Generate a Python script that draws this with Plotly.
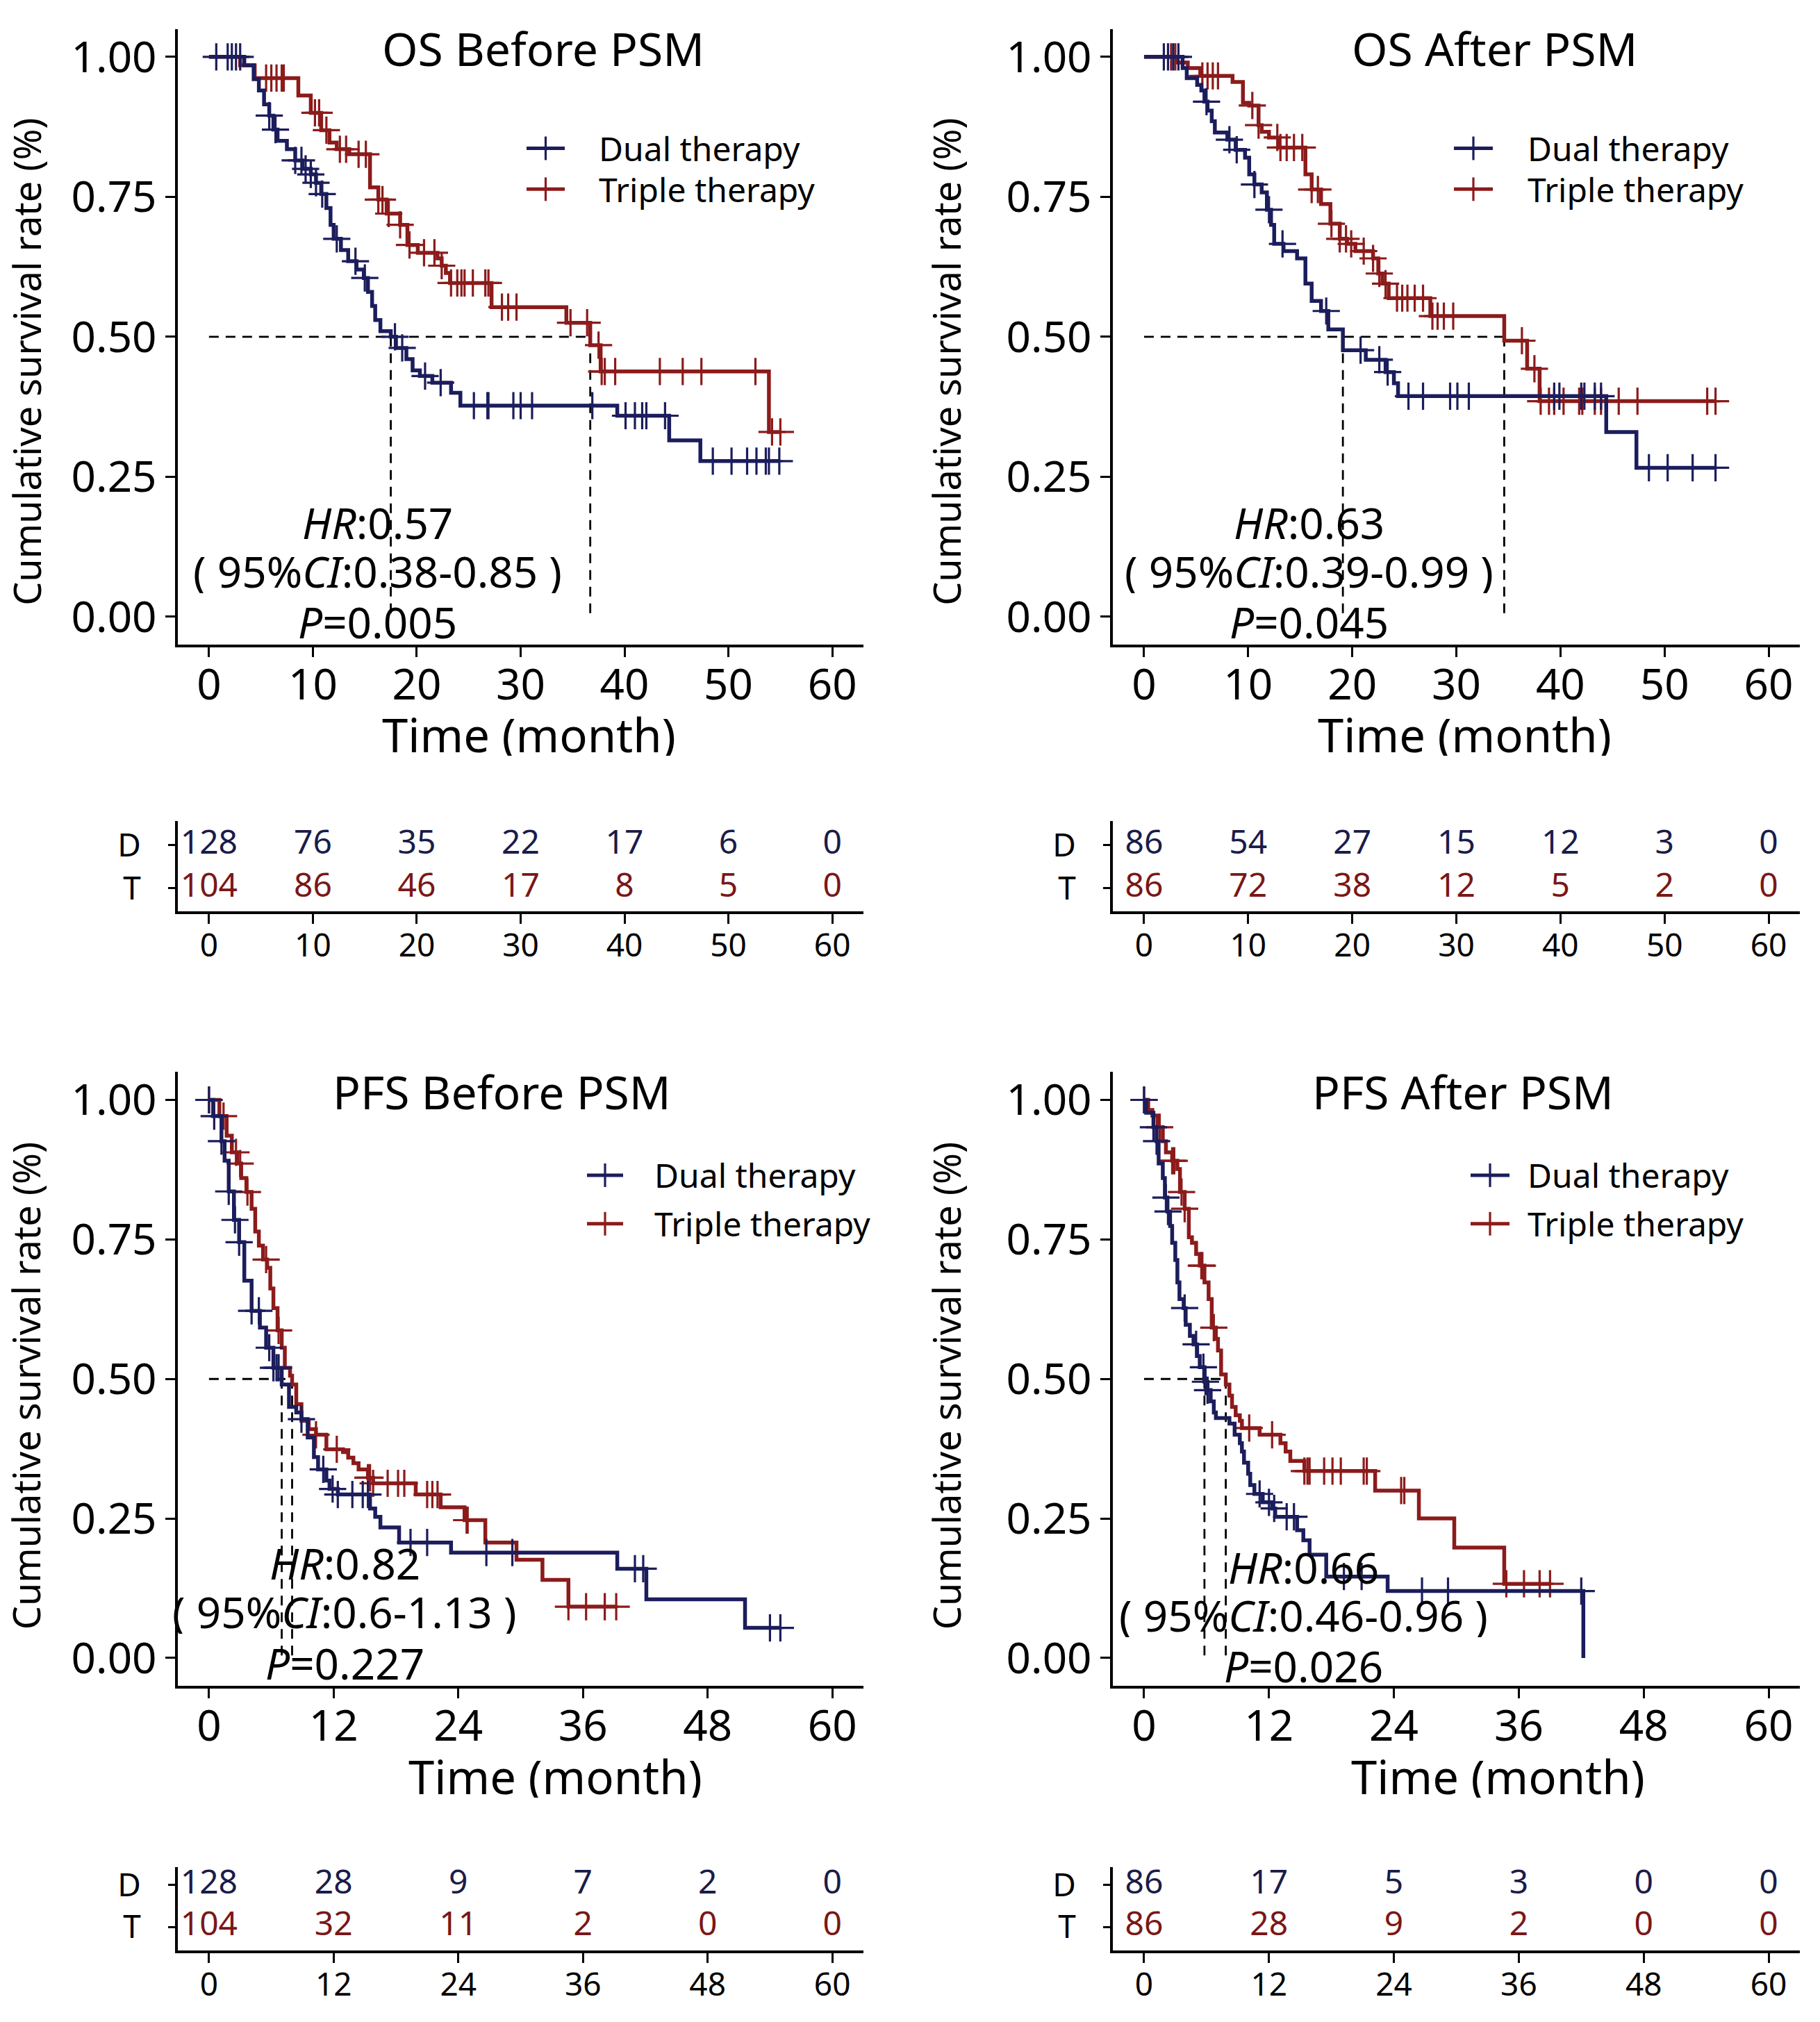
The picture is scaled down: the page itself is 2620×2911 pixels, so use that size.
import numpy as np
import plotly.graph_objects as go

W, H = 2620, 2911
NAVY = "#1b1d5c"
RED = "#8c1b1b"
TAB_NAVY = "#1a1c4a"
TAB_RED = "#7a1717"
FONT = "Noto Sans"

# ---------------- data ----------------
# OS before PSM
os_b_dual_t = [3.4, 4.3, 4.8, 5.3, 5.8, 6.2, 6.6, 7.5, 8.3, 9.0, 9.8, 10.3, 10.8, 11.3, 11.7, 12.0, 12.7, 13.4,
               14.2, 14.9, 15.3, 15.7, 16.0, 16.5, 17.5, 18.0, 19.0, 19.6, 20.3, 21.5, 23.3, 24.2, 39.3, 44.3, 47.3]
os_b_dual_s = [0.985, 0.96, 0.94, 0.915, 0.895, 0.87, 0.85, 0.835, 0.815, 0.80, 0.79, 0.775, 0.755, 0.73, 0.70,
               0.675, 0.655, 0.635, 0.62, 0.605, 0.58, 0.555, 0.53, 0.51, 0.50, 0.48, 0.46, 0.44, 0.43, 0.418,
               0.40, 0.377, 0.359, 0.315, 0.278]
os_b_dual_c = [0.7, 1.8, 2.2, 2.6, 3.0, 5.8, 6.4, 8.3, 8.9, 9.3, 9.8, 10.3, 10.9, 12.3, 14.1, 15.0, 17.9, 18.6,
               20.8, 22.3, 25.5, 26.8, 26.9, 29.3, 30.0, 31.1, 36.9, 40.1, 41.0, 41.7, 42.1, 43.9, 48.5, 50.3,
               51.8, 52.7, 53.6, 53.9, 54.9]
os_b_tri_t = [3.0, 4.4, 8.6, 9.8, 10.8, 11.6, 12.3, 13.5, 15.5, 16.3, 17.1, 18.4, 19.1, 20.1, 22.0, 22.4, 22.8,
              23.2, 27.2, 34.4, 36.7, 37.7, 53.9]
os_b_tri_s = [0.985, 0.962, 0.931, 0.90, 0.869, 0.847, 0.835, 0.826, 0.767, 0.745, 0.72, 0.70, 0.664, 0.65,
              0.64, 0.627, 0.614, 0.596, 0.553, 0.525, 0.485, 0.438, 0.33]
os_b_tri_c = [5.5, 6.0, 6.5, 7.0, 7.2, 10.2, 10.6, 11.3, 12.6, 13.2, 14.4, 15.1, 16.3, 16.7, 17.3, 18.4, 19.3,
              20.7, 21.7, 22.4, 23.3, 23.9, 24.3, 24.6, 25.4, 26.6, 26.9, 28.2, 28.8, 29.6, 34.8, 36.4, 37.5,
              37.8, 38.1, 39.1, 43.4, 45.6, 47.4, 52.6, 54.2, 55.0]

# OS after PSM
os_a_dual_t = [3.7, 4.1, 5.1, 5.5, 5.8, 6.1, 6.5, 6.8, 8.0, 8.8, 9.7, 10.1, 10.6, 11.3, 11.8, 12.2, 12.5, 13.4,
               14.7, 15.5, 16.1, 17.0, 17.7, 19.1, 21.3, 23.2, 24.0, 24.4, 44.4, 47.3]
os_a_dual_s = [0.98, 0.962, 0.95, 0.94, 0.92, 0.904, 0.885, 0.865, 0.852, 0.834, 0.82, 0.79, 0.772, 0.758,
               0.727, 0.70, 0.666, 0.653, 0.64, 0.595, 0.564, 0.546, 0.513, 0.476, 0.459, 0.437, 0.417, 0.394,
               0.33, 0.266]
os_a_dual_c = [1.9, 2.3, 2.8, 3.3, 6.0, 8.2, 8.9, 10.6, 12.0, 13.3, 17.5, 20.8, 22.6, 23.4, 25.4, 26.8, 29.4,
               30.1, 31.2, 39.4, 39.9, 42.0, 42.3, 43.3, 43.9, 48.5, 50.3, 52.7, 54.9]
os_a_tri_t = [3.1, 4.2, 5.4, 8.5, 9.5, 10.1, 11.0, 11.3, 12.0, 12.9, 15.5, 16.1, 17.0, 17.9, 18.8, 19.5, 20.3,
              22.0, 22.5, 22.9, 23.5, 27.5, 34.6, 36.8, 38.0]
os_a_tri_s = [0.99, 0.98, 0.966, 0.955, 0.918, 0.913, 0.878, 0.866, 0.856, 0.838, 0.79, 0.763, 0.737, 0.702,
              0.675, 0.666, 0.653, 0.64, 0.613, 0.595, 0.569, 0.537, 0.493, 0.443, 0.385]
os_a_tri_c = [2.6, 3.0, 5.6, 6.1, 6.6, 7.1, 10.4, 11.0, 12.8, 13.1, 13.7, 14.4, 15.2, 16.1, 16.7, 18.0, 18.8,
              19.4, 19.9, 21.1, 22.0, 22.6, 23.2, 24.3, 24.8, 25.3, 26.0, 26.8, 27.7, 28.2, 28.8, 29.7, 36.3,
              37.5, 38.1, 38.9, 39.4, 40.3, 41.8, 42.1, 43.3, 43.9, 45.6, 47.4, 54.1, 54.9]

# PFS before PSM
pfs_b_dual_t = [0.4, 1.2, 1.5, 1.9, 2.4, 2.9, 3.4, 4.1, 4.9, 5.5, 6.2, 7.0, 7.7, 8.4, 8.9, 9.5, 10.1, 10.5,
                11.3, 11.6, 12.4, 15.5, 16.0, 16.5, 18.3, 23.3, 39.3, 42.1, 51.6]
pfs_b_dual_s = [0.971, 0.926, 0.891, 0.836, 0.785, 0.745, 0.676, 0.622, 0.592, 0.556, 0.52, 0.49, 0.45, 0.44,
                0.428, 0.395, 0.36, 0.338, 0.318, 0.303, 0.293, 0.268, 0.253, 0.234, 0.207, 0.189, 0.16,
                0.105, 0.054]
pfs_b_dual_c = [0.0, 0.5, 1.2, 1.9, 2.5, 2.9, 4.1, 4.8, 5.8, 6.2, 6.5, 6.7, 8.9, 11.0, 11.9, 12.4, 13.8, 14.8,
                15.3, 19.4, 21.0, 26.7, 29.2, 41.0, 41.8, 54.0, 55.0]
pfs_b_tri_t = [1.0, 1.7, 2.2, 2.7, 3.1, 3.6, 4.1, 4.45, 4.8, 5.2, 5.6, 5.9, 6.2, 6.6, 7.0, 7.3, 7.8, 8.0, 8.4,
               8.9, 9.6, 10.3, 11.3, 12.9, 13.4, 13.9, 14.4, 15.3, 15.8, 19.9, 22.3, 24.6, 26.6, 29.6, 32.1, 34.6]
pfs_b_tri_s = [0.971, 0.936, 0.906, 0.886, 0.86, 0.835, 0.805, 0.764, 0.739, 0.714, 0.699, 0.662, 0.627,
               0.587, 0.556, 0.52, 0.506, 0.49, 0.455, 0.425, 0.41, 0.40, 0.374, 0.369, 0.359, 0.349, 0.338,
               0.323, 0.313, 0.293, 0.27, 0.247, 0.207, 0.176, 0.14, 0.092]
pfs_b_tri_c = [0.0, 1.4, 2.6, 3.0, 3.7, 5.5, 6.7, 10.3, 12.3, 15.3, 15.5, 15.8, 17.2, 18.2, 18.8, 21.0, 21.5,
               22.0, 24.8, 24.9, 34.6, 36.3, 38.1, 39.2]

# PFS after PSM
pfs_a_dual_t = [0.2, 0.9, 1.2, 1.4, 1.8, 2.0, 2.25, 2.5, 2.7, 3.0, 3.2, 3.4, 3.8, 4.0, 4.4, 4.75, 5.1, 5.35,
                5.8, 6.1, 6.4, 6.7, 6.9, 8.2, 8.7, 9.2, 9.4, 9.6, 10.0, 10.2, 10.6, 11.4, 12.3, 12.6, 14.7,
                15.3, 15.9, 17.5, 23.4, 42.2]
pfs_a_dual_s = [0.977, 0.951, 0.926, 0.886, 0.86, 0.825, 0.80, 0.774, 0.744, 0.713, 0.673, 0.643, 0.627,
                0.597, 0.577, 0.562, 0.541, 0.521, 0.495, 0.48, 0.46, 0.44, 0.43, 0.42, 0.40, 0.385, 0.37,
                0.35, 0.33, 0.31, 0.294, 0.279, 0.268, 0.253, 0.229, 0.211, 0.185, 0.146, 0.12, 0.0]
pfs_a_dual_c = [0.0, 0.9, 1.2, 2.1, 2.3, 3.9, 5.0, 5.7, 5.9, 6.1, 11.1, 12.0, 12.5, 13.7, 14.4, 19.2, 20.9,
                26.7, 29.2, 42.0]
pfs_a_tri_t = [0.4, 0.8, 1.3, 1.8, 2.1, 2.7, 3.2, 3.45, 3.9, 4.3, 4.6, 5.0, 5.35, 5.8, 6.2, 6.5, 6.9, 7.1,
               7.4, 7.85, 8.2, 8.45, 8.8, 9.2, 9.4, 11.1, 13.1, 13.6, 14.05, 15.4, 22.2, 26.4, 29.8, 34.6]
pfs_a_tri_s = [0.982, 0.972, 0.951, 0.926, 0.906, 0.891, 0.876, 0.835, 0.805, 0.754, 0.744, 0.724, 0.703,
               0.673, 0.643, 0.592, 0.572, 0.551, 0.508, 0.49, 0.47, 0.45, 0.435, 0.425, 0.412, 0.40, 0.385,
               0.37, 0.353, 0.335, 0.30, 0.25, 0.198, 0.133]
pfs_a_tri_c = [0.0, 1.5, 2.7, 2.9, 3.6, 3.9, 5.5, 5.6, 6.7, 10.1, 12.3, 15.4, 15.7, 15.9, 17.3, 18.1, 18.9,
               21.1, 21.4, 24.7, 25.0, 34.8, 36.5, 38.0, 39.0]

# numbers at risk
os_tab_x = [0, 10, 20, 30, 40, 50, 60]
os_b_tab_d = [128, 76, 35, 22, 17, 6, 0]
os_b_tab_t = [104, 86, 46, 17, 8, 5, 0]
os_a_tab_d = [86, 54, 27, 15, 12, 3, 0]
os_a_tab_t = [86, 72, 38, 12, 5, 2, 0]
pfs_tab_x = [0, 12, 24, 36, 48, 60]
pfs_b_tab_d = [128, 28, 9, 7, 2, 0]
pfs_b_tab_t = [104, 32, 11, 2, 0, 0]
pfs_a_tab_d = [86, 17, 5, 3, 0, 0]
pfs_a_tab_t = [86, 28, 9, 2, 0, 0]

titles = ["OS Before PSM", "OS After PSM", "PFS Before PSM", "PFS After PSM"]
hr_text = [["<i>HR</i>:0.57", "( 95%<i>CI</i>:0.38-0.85 )", "<i>P</i>=0.005"],
           ["<i>HR</i>:0.63", "( 95%<i>CI</i>:0.39-0.99 )", "<i>P</i>=0.045"],
           ["<i>HR</i>:0.82", "( 95%<i>CI</i>:0.6-1.13 )", "<i>P</i>=0.227"],
           ["<i>HR</i>:0.66", "( 95%<i>CI</i>:0.46-0.96 )", "<i>P</i>=0.026"]]
group_names = ["Dual therapy", "Triple therapy"]
y_ticks = [0, 0.25, 0.5, 0.75, 1.0]


# ---------------- helpers ----------------
def px_x(p):
    return p / W


def px_y(p):
    return 1 - p / H


def xdom(a, b):
    return [a / W, b / W]


def ydom(top, bottom):
    return [1 - bottom / H, 1 - top / H]


def km_xy(t, s, cens):
    end = max(max(cens), t[-1])
    return [0.0] + list(t) + [end], [1.0] + list(s) + [s[-1]]


def surv_at(t, s, times):
    ta = np.asarray(t)
    out = []
    for c in times:
        i = np.searchsorted(ta, c, side="right") - 1
        out.append(1.0 if i < 0 else s[i])
    return out


def median(t, s):
    for ti, si in zip(t, s):
        if si <= 0.5:
            return ti
    return None


# ---------------- layout geometry (pixels) ----------------
KM = [
    dict(x=(256, 1243), y=(34.6, 923.4)),
    dict(x=(1602, 2591), y=(34.6, 923.4)),
    dict(x=(256, 1243), y=(1540, 2426)),
    dict(x=(1602, 2591), y=(1540, 2426)),
]
TAB = [
    dict(x=(256, 1243), y=(1178, 1308), r=[0.47, 2.56]),
    dict(x=(1602, 2591), y=(1178, 1308), r=[0.47, 2.56]),
    dict(x=(256, 1243), y=(2687, 2808), r=[0.44, 2.43]),
    dict(x=(1602, 2591), y=(2687, 2808), r=[0.44, 2.43]),
]
title_pos = [(782, 62), (2151, 62), (722, 1568), (2106, 1568)]
time_pos = [(761, 1053), (2108, 1053), (799, 2556), (2156, 2556)]
ylab_pos = [(38, 515), (1362, 515), (37, 1993), (1362, 1993)]
hr_pos = [(543, [747, 817, 890]), (1884, [747, 817, 890]), (496, [2248, 2319, 2393]), (1876, [2254, 2324, 2397])]
leg_pos = [((758, 813), 860, [207, 266]), ((2093, 2149), 2197, [207, 266]),
           ((845, 897), 940, [1689, 1759]), ((2117, 2173), 2197, [1689, 1759])]

curves = [
    ((os_b_dual_t, os_b_dual_s, os_b_dual_c), (os_b_tri_t, os_b_tri_s, os_b_tri_c)),
    ((os_a_dual_t, os_a_dual_s, os_a_dual_c), (os_a_tri_t, os_a_tri_s, os_a_tri_c)),
    ((pfs_b_dual_t, pfs_b_dual_s, pfs_b_dual_c), (pfs_b_tri_t, pfs_b_tri_s, pfs_b_tri_c)),
    ((pfs_a_dual_t, pfs_a_dual_s, pfs_a_dual_c), (pfs_a_tri_t, pfs_a_tri_s, pfs_a_tri_c)),
]
tables = [
    (os_tab_x, os_b_tab_d, os_b_tab_t),
    (os_tab_x, os_a_tab_d, os_a_tab_t),
    (pfs_tab_x, pfs_b_tab_d, pfs_b_tab_t),
    (pfs_tab_x, pfs_a_tab_d, pfs_a_tab_t),
]

fig = go.Figure()
layout = dict(
    width=W, height=H, autosize=False,
    margin=dict(l=0, r=0, t=0, b=0),
    paper_bgcolor="white", plot_bgcolor="white",
    showlegend=False,
    font=dict(family=FONT, color="black"),
)
annotations = []
shapes = []

axis_common = dict(
    showline=True, linecolor="black", linewidth=4, ticks="outside", ticklen=14, tickwidth=3,
    tickcolor="black", showgrid=False, zeroline=False, tickfont=dict(size=62, family=FONT, color="black"),
)

for i in range(4):
    km_ax = 2 * i + 1
    tb_ax = 2 * i + 2
    xs = "x" if km_ax == 1 else f"x{km_ax}"
    ys = "y" if km_ax == 1 else f"y{km_ax}"
    xt = f"x{tb_ax}"
    yt = f"y{tb_ax}"
    tick_x = tables[i][0]

    layout["xaxis" if km_ax == 1 else f"xaxis{km_ax}"] = dict(
        axis_common, domain=xdom(*KM[i]["x"]), range=[-3, 63], tickvals=tick_x, anchor=ys,
        ticklabelstandoff=-14)
    layout["yaxis" if km_ax == 1 else f"yaxis{km_ax}"] = dict(
        axis_common, domain=ydom(*KM[i]["y"]), range=[-0.05, 1.05], tickvals=y_ticks,
        tickformat=".2f", anchor=xs)
    layout[f"xaxis{tb_ax}"] = dict(
        axis_common, domain=xdom(*TAB[i]["x"]), range=[-3, 63], tickvals=tick_x, anchor=yt,
        tickfont=dict(size=46, family=FONT, color="black"), ticklabelstandoff=-8)
    layout[f"yaxis{tb_ax}"] = dict(
        axis_common, domain=ydom(*TAB[i]["y"]), range=TAB[i]["r"], tickvals=[2, 1],
        ticktext=["D", "T"], anchor=xt, ticklen=10,
        tickfont=dict(size=46, family=FONT, color="black"), ticklabelstandoff=30)

    (dt, ds, dc), (tt, ts, tc) = curves[i]
    # median reference lines
    md = median(dt, ds)
    mt = median(tt, ts)
    mmax = max(md, mt)
    fig.add_trace(go.Scatter(x=[0, mmax], y=[0.5, 0.5], mode="lines", xaxis=xs, yaxis=ys,
                             line=dict(color="black", width=2.8, dash="14px,10px"), hoverinfo="skip"))
    for m in (md, mt):
        fig.add_trace(go.Scatter(x=[m, m], y=[0.5, 0], mode="lines", xaxis=xs, yaxis=ys,
                                 line=dict(color="black", width=2.8, dash="14px,10px"), hoverinfo="skip"))

    for (t, s, c), col, nm in (((tt, ts, tc), RED, group_names[1]), ((dt, ds, dc), NAVY, group_names[0])):
        x, y = km_xy(t, s, c)
        fig.add_trace(go.Scatter(x=x, y=y, mode="lines", line=dict(color=col, width=5.5, shape="hv"),
                                 xaxis=xs, yaxis=ys, name=nm))
        fig.add_trace(go.Scatter(x=c, y=surv_at(t, s, c), mode="markers", xaxis=xs, yaxis=ys, name=nm,
                                 marker=dict(symbol="cross-thin", size=28, line=dict(color=col, width=3.2))))

    # risk table
    tx, td, tt_ = tables[i]
    fig.add_trace(go.Scatter(x=tx, y=[2] * len(tx), mode="text", text=[str(v) for v in td], xaxis=xt,
                             yaxis=yt, textfont=dict(size=48, color=TAB_NAVY, family=FONT), cliponaxis=False))
    fig.add_trace(go.Scatter(x=tx, y=[1] * len(tx), mode="text", text=[str(v) for v in tt_], xaxis=xt,
                             yaxis=yt, textfont=dict(size=48, color=TAB_RED, family=FONT), cliponaxis=False))

    # texts
    annotations.append(dict(text=titles[i], x=px_x(title_pos[i][0]), y=px_y(title_pos[i][1]), xref="paper",
                            yref="paper", showarrow=False, font=dict(size=66, family=FONT, color="black"),
                            xanchor="center", yanchor="middle"))
    annotations.append(dict(text="Time (month)", x=px_x(time_pos[i][0]), y=px_y(time_pos[i][1]), xref="paper",
                            yref="paper", showarrow=False, font=dict(size=67, family=FONT, color="black"),
                            xanchor="center", yanchor="middle", height=62))
    annotations.append(dict(text="Cumulative survival rate (%)", x=px_x(ylab_pos[i][0]),
                            y=px_y(ylab_pos[i][1]), xref="paper", yref="paper", showarrow=False,
                            textangle=-90, font=dict(size=54, family=FONT, color="black"),
                            xanchor="center", yanchor="middle"))
    hx, hys = hr_pos[i]
    for txt, hy in zip(hr_text[i], hys):
        annotations.append(dict(text=txt, x=px_x(hx), y=px_y(hy), xref="paper", yref="paper",
                                showarrow=False, font=dict(size=62, family=FONT, color="black"),
                                xanchor="center", yanchor="middle", height=64))
    # legend
    (k0, k1), lx, lys = leg_pos[i]
    for nm, col, ly in zip(group_names, (NAVY, RED), lys):
        shapes.append(dict(type="line", xref="paper", yref="paper", x0=px_x(k0), x1=px_x(k1),
                           y0=px_y(ly), y1=px_y(ly), line=dict(color=col, width=5)))
        kc = (k0 + k1) / 2
        shapes.append(dict(type="line", xref="paper", yref="paper", x0=px_x(kc), x1=px_x(kc),
                           y0=px_y(ly - 17), y1=px_y(ly + 17), line=dict(color=col, width=3.2)))
        annotations.append(dict(text=nm, x=px_x(lx), y=px_y(ly), xref="paper", yref="paper",
                                showarrow=False, font=dict(size=48, family=FONT, color="black"),
                                xanchor="left", yanchor="middle"))

layout["annotations"] = annotations
layout["shapes"] = shapes
fig.update_layout(**layout)
fig.write_html("out.html")
